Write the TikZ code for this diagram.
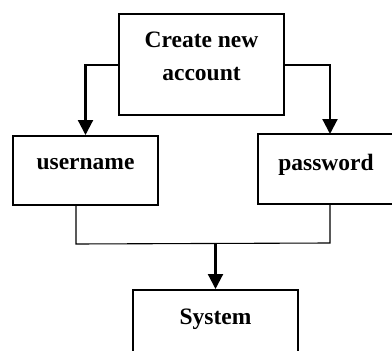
\documentclass[tikz,border=0pt]{standalone}
\usepackage{fontspec}
\setmainfont{Liberation Serif}
\usepackage{tikz}
\usetikzlibrary{positioning}
\usetikzlibrary{arrows.meta}

\tikzset{
  block/.style={draw, line width=2pt, align=center, inner sep=0pt,
    font=\fontsize{23.5}{33}\selectfont\bfseries},
  flow/.style={line width=2.2pt, -{Triangle[length=15pt,width=15pt]}},
  thinline/.style={line width=1.1pt}
}

\begin{document}
\begin{tikzpicture}[x=1pt,y=-1pt]
    \useasboundingbox (0,0) rectangle (392,351);

    \node(create) [block, minimum width=165pt, minimum height=101pt, text depth=17pt] at (201.5,64.5) {Create new\\account};
    \node(user) [block, minimum width=145pt, minimum height=69pt, text depth=14pt] at (85.5,170.5) {username};
    \node(pass) [block, minimum width=136pt, minimum height=70pt, text depth=14pt] at (326,169) {password};
    \node(sys) [block, minimum width=165pt, minimum height=70pt, text depth=16pt] at (215.5,325) {System};

    \coordinate (userout) at (76,205);
    \coordinate (passout) at (330,204);
    \coordinate (passin) at (330,134);
    \coordinate (joint) at (215.5,243.5);

    \draw[flow] (create.west |- 0,65) -| (user.north);
    \draw[flow] (create.east |- 0,65) -| (passin);

    \draw[thinline] (userout) -- (76,244) -- (330,243) -- (passout);
    \draw[flow] (joint) -- (sys.north);
  \end{tikzpicture}
\end{document}
